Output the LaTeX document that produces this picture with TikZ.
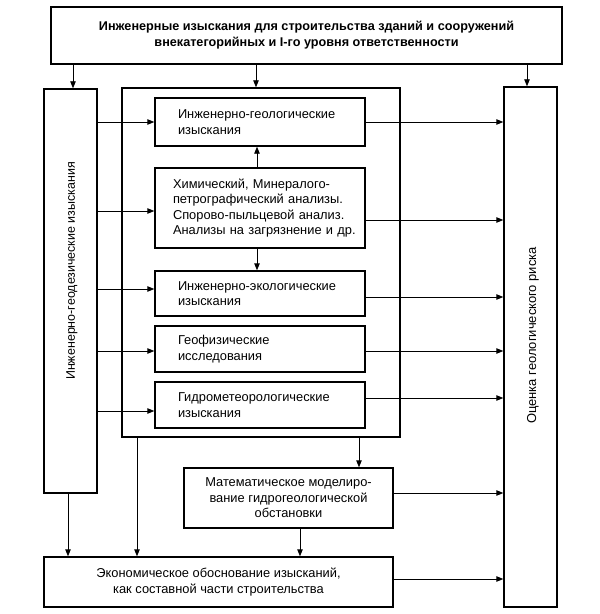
\documentclass[tikz,border=0pt]{standalone}
\usepackage{fontspec}
\setmainfont{Liberation Sans}
\usetikzlibrary{arrows.meta}
\begin{document}
\begin{tikzpicture}[x=1bp,y=-1bp,
  box/.style={draw, line width=1.4bp, inner sep=0pt},
  lbox/.style={box, align=left, minimum width=210bp},
  txt/.style={font=\fontsize{12.9}{15.5}\selectfont},
  arr/.style={-{Triangle[length=7bp,width=5.5bp]}, line width=0.9bp}]
\useasboundingbox (0,0) rectangle (600,614);
% boxes
\node[box, minimum width=511bp, minimum height=57bp, align=center,
  font=\fontsize{12.7}{16}\selectfont\bfseries] (top) at (306.5,35.5)
  {Инженерные изыскания для строительства зданий и сооружений\\внекатегорийных и I-го уровня ответственности};
\node[box, minimum width=53bp, minimum height=404bp] (geod) at (70.5,291) {};
\node[font=\fontsize{12.5}{15}\selectfont, rotate=90] (geodt) at (72,271) {Инженерно-геодезические изыскания};
\node[box, minimum width=278bp, minimum height=349bp] (frame) at (261,262.5) {};
\node[lbox, txt, minimum height=48bp, inner xsep=23bp, text width=164bp] (b1) at (260,122)
  {Инженерно-геологические\\изыскания};
\node[lbox, txt, minimum height=80bp, inner xsep=18bp, text width=174bp] (b2) at (260,208)
  {\mbox{Химический, Минералого-}\\\mbox{петрографический анализы.}\\\mbox{Спорово-пыльцевой анализ.}\\\mbox{Анализы на загрязнение и др.}};
\node[lbox, txt, minimum height=45bp, inner xsep=23bp, text width=164bp] (b3) at (260,293.5)
  {Инженерно-экологические\\изыскания};
\node[lbox, txt, minimum height=46bp, inner xsep=23bp, text width=164bp] (b4) at (260,349)
  {Геофизические\\исследования};
\node[lbox, txt, minimum height=46bp, inner xsep=23bp, text width=164bp] (b5) at (260,405)
  {Гидрометеорологические\\изыскания};
\node[box, minimum width=53bp, minimum height=520bp] (risk) at (530.5,347) {};
\node[font=\fontsize{13}{15}\selectfont, rotate=90] (riskt) at (533,335.5) {Оценка геологического риска};
\node[box, txt, minimum width=209bp, minimum height=60bp, align=center] (math) at (288.5,498)
  {Математическое моделиро-\\вание гидрогеологической\\обстановки};
\node[box, txt, minimum width=349bp, minimum height=50bp, align=center] (econ) at (218.5,582)
  {Экономическое обоснование изысканий,\\как составной части строительства};
% helper coordinates
\coordinate (xTG) at (73,0);
\coordinate (xTF) at (256,0);
\coordinate (xTR) at (527,0);
\coordinate (xB2) at (257,0);
\coordinate (xFM) at (359,0);
\coordinate (xFE) at (137,0);
\coordinate (xGE) at (68,0);
\coordinate (xME) at (300,0);
\coordinate (yI1) at (0,122);
\coordinate (yI2) at (0,211);
\coordinate (yI3) at (0,289);
\coordinate (yI4) at (0,351);
\coordinate (yI5) at (0,411);
\coordinate (yO1) at (0,122);
\coordinate (yO2) at (0,220);
\coordinate (yO3) at (0,297);
\coordinate (yO4) at (0,351);
\coordinate (yO5) at (0,398);
\coordinate (yOM) at (0,493);
\coordinate (yOE) at (0,579);
% arrows from top
\draw[arr] (top.south -| xTG) -- (geod.north -| xTG);
\draw[arr] (top.south -| xTF) -- (frame.north -| xTF);
\draw[arr] (top.south -| xTR) -- (risk.north -| xTR);
% geodesy to boxes
\draw[arr] (geod.east |- yI1) -- (b1.west |- yI1);
\draw[arr] (geod.east |- yI2) -- (b2.west |- yI2);
\draw[arr] (geod.east |- yI3) -- (b3.west |- yI3);
\draw[arr] (geod.east |- yI4) -- (b4.west |- yI4);
\draw[arr] (geod.east |- yI5) -- (b5.west |- yI5);
% boxes to risk
\draw[arr] (b1.east |- yO1) -- (risk.west |- yO1);
\draw[arr] (b2.east |- yO2) -- (risk.west |- yO2);
\draw[arr] (b3.east |- yO3) -- (risk.west |- yO3);
\draw[arr] (b4.east |- yO4) -- (risk.west |- yO4);
\draw[arr] (b5.east |- yO5) -- (risk.west |- yO5);
% analyses
\draw[arr] (b2.north -| xB2) -- (b1.south -| xB2);
\draw[arr] (b2.south -| xB2) -- (b3.north -| xB2);
% lower part
\draw[arr] (frame.south -| xFM) -- (math.north -| xFM);
\draw[arr] (frame.south -| xFE) -- (econ.north -| xFE);
\draw[arr] (geod.south -| xGE) -- (econ.north -| xGE);
\draw[arr] (math.south -| xME) -- (econ.north -| xME);
\draw[arr] (math.east |- yOM) -- (risk.west |- yOM);
\draw[arr] (econ.east |- yOE) -- (risk.west |- yOE);
\end{tikzpicture}
\end{document}
